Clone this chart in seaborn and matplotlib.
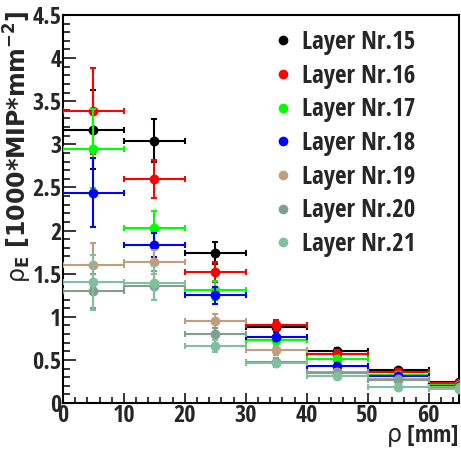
import numpy as np
import pandas as pd
import matplotlib
matplotlib.use("Agg")
import matplotlib.pyplot as plt
from matplotlib import font_manager
from matplotlib.lines import Line2D
from matplotlib.ticker import MultipleLocator, FuncFormatter
import seaborn as sns

# Radial bin centres (mm) and half-width of each bin
rho_bins = [5, 15, 25, 35, 45, 55, 65]
bin_half_width = 5

layers = ["Layer Nr.15", "Layer Nr.16", "Layer Nr.17", "Layer Nr.18",
          "Layer Nr.19", "Layer Nr.20", "Layer Nr.21"]

# Energy density per layer [1000*MIP*mm^-2] and its uncertainty
dens_15 = [3.17, 3.04, 1.74, 0.88, 0.60, 0.38, 0.24]
dens_16 = [3.39, 2.60, 1.52, 0.90, 0.57, 0.36, 0.23]
dens_17 = [2.95, 2.03, 1.31, 0.73, 0.51, 0.33, 0.21]
dens_18 = [2.44, 1.83, 1.25, 0.77, 0.43, 0.31, 0.20]
dens_19 = [1.60, 1.64, 0.95, 0.61, 0.36, 0.28, 0.18]
dens_20 = [1.30, 1.36, 0.80, 0.48, 0.35, 0.27, 0.17]
dens_21 = [1.40, 1.39, 0.66, 0.46, 0.31, 0.18, 0.16]

err_15 = [0.46, 0.25, 0.13, 0.06, 0.04, 0.03, 0.02]
err_16 = [0.50, 0.22, 0.12, 0.06, 0.04, 0.03, 0.02]
err_17 = [0.46, 0.20, 0.11, 0.05, 0.04, 0.03, 0.02]
err_18 = [0.40, 0.14, 0.10, 0.05, 0.03, 0.02, 0.02]
err_19 = [0.26, 0.14, 0.08, 0.05, 0.03, 0.02, 0.02]
err_20 = [0.20, 0.17, 0.07, 0.04, 0.03, 0.02, 0.02]
err_21 = [0.32, 0.20, 0.07, 0.04, 0.03, 0.02, 0.02]

colors = ["#000000", "#ff0000", "#00ff00", "#0000ff",
          "#bf9f80", "#809f8f", "#80c0a0"]

dens = [dens_15, dens_16, dens_17, dens_18, dens_19, dens_20, dens_21]
errs = [err_15, err_16, err_17, err_18, err_19, err_20, err_21]

rows = []
for name, d, e in zip(layers, dens, errs):
    for r, v, s in zip(rho_bins, d, e):
        rows.append({"layer": name, "rho": r, "dens": v, "err": s})
df = pd.DataFrame(rows)

sns.set_style("ticks")
available = {f.name for f in font_manager.fontManager.ttflist}
cond = "Open Sans Condensed" if "Open Sans Condensed" in available else "Liberation Sans"
plt.rcParams["font.family"] = [cond, "DejaVu Sans"]

W, H = 461, 462
fig = plt.figure(figsize=(W / 100, H / 100), dpi=100)
x0, x1, y0, y1 = 63, 459, 15, 403
ax = fig.add_axes([x0 / W, 1 - y1 / H, (x1 - x0) / W, (y1 - y0) / H])

for i, (name, col) in enumerate(zip(layers, colors)):
    sub = df[df["layer"] == name]
    ax.errorbar(sub["rho"], sub["dens"], yerr=sub["err"], xerr=bin_half_width,
                fmt="none", ecolor=col, elinewidth=1.5, capsize=2.2,
                capthick=1.5, zorder=2 + 2 * i)
    sns.scatterplot(data=sub, x="rho", y="dens", color=col, s=50,
                    linewidth=0, ax=ax, zorder=3 + 2 * i, legend=False)

ax.set_xlim(0, 65)
ax.set_ylim(0, 4.5)
ax.xaxis.set_major_locator(MultipleLocator(10))
ax.xaxis.set_minor_locator(MultipleLocator(2))
ax.yaxis.set_major_locator(MultipleLocator(0.5))
ax.yaxis.set_minor_locator(MultipleLocator(0.1))
ax.yaxis.set_major_formatter(FuncFormatter(lambda v, p: f"{v:g}"))
ax.xaxis.set_major_formatter(FuncFormatter(lambda v, p: f"{v:g}"))

for sp in ax.spines.values():
    sp.set_linewidth(1.5)
    sp.set_color("black")

ax.tick_params(axis="y", which="major", direction="in", length=9, width=1.3,
               labelsize=17.5, pad=1)
ax.tick_params(axis="y", which="minor", direction="in", length=5, width=1.3)
ax.tick_params(axis="x", which="major", direction="in", length=7.5, width=1.3,
               labelsize=17.5, pad=1)
ax.tick_params(axis="x", which="minor", direction="in", length=4, width=1.3)
for lab in ax.get_xticklabels() + ax.get_yticklabels():
    lab.set_fontweight("bold")

ax.set_xlabel(r"$\mathrm{\rho}$ [mm]", fontsize=17, fontweight="bold", loc="right",
              math_fontfamily="dejavusans")
ax.xaxis.set_label_coords(1.0, -0.052)
ax.set_ylabel(r"$\mathrm{\rho}_{\mathbf{E}}$ [1000*MIP*mm$^{\mathbf{-2}}$]",
              fontsize=17, fontweight="bold", family="DejaVu Sans",
              math_fontfamily="dejavusans", loc="top")
ax.yaxis.set_label_coords(-0.074, 1.013)

handles = [Line2D([], [], marker="o", linestyle="none", color=c,
                  markeredgewidth=0, markersize=7) for c in colors]
leg = fig.legend(handles, layers, loc="upper left",
                 bbox_to_anchor=(275.5 / W, 1 - 30 / H),
                 frameon=False, borderpad=0, borderaxespad=0,
                 handlelength=0.6, handletextpad=0.46, labelspacing=0.347,
                 prop={"family": cond, "weight": "bold", "size": 18})

fig.savefig("out.png", dpi=100)
